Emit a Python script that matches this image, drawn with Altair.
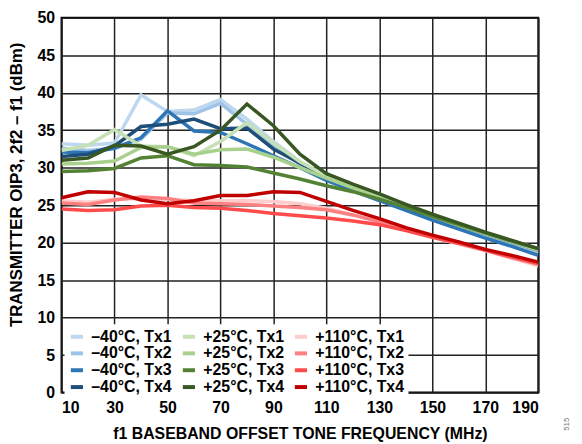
import altair as alt
import pandas as pd

freq = [10, 20, 30, 40, 50, 60, 70, 80, 90, 100, 110, 120, 130, 140, 150, 160, 170, 180, 190]

m40_tx1 = [33.2, 33.0, 33.3, 39.7, 37.5, 37.7, 39.1, 36.5, 33.5, 30.8, 28.8, 27.4, 26.0, 24.6, 23.3, 22.1, 21.0, 19.9, 18.7]
m40_tx2 = [32.6, 32.3, 32.6, 33.8, 37.3, 37.2, 38.6, 35.8, 33.0, 30.5, 28.6, 27.2, 25.9, 24.5, 23.2, 22.0, 20.9, 19.8, 18.6]
m40_tx3 = [32.1, 32.0, 32.6, 34.0, 37.6, 34.9, 34.7, 33.2, 31.6, 30.0, 28.3, 26.9, 25.6, 24.3, 23.0, 21.8, 20.6, 19.5, 18.3]
m40_tx4 = [31.5, 31.8, 32.9, 35.5, 35.8, 36.5, 35.2, 35.3, 32.5, 30.6, 28.8, 27.4, 26.1, 24.8, 23.5, 22.3, 21.2, 20.1, 19.0]

p25_tx1 = [32.3, 33.0, 35.1, 32.9, 32.8, 31.6, 33.5, 36.0, 33.3, 30.8, 28.9, 27.5, 26.2, 24.9, 23.6, 22.4, 21.3, 20.3, 19.2]
p25_tx2 = [30.5, 30.6, 30.9, 32.7, 32.8, 31.8, 32.4, 32.5, 31.4, 30.0, 28.6, 27.3, 26.0, 24.8, 23.5, 22.3, 21.2, 20.1, 19.0]
p25_tx3 = [29.5, 29.6, 29.9, 31.3, 31.6, 30.4, 30.3, 30.1, 29.3, 28.5, 27.6, 26.8, 25.8, 24.7, 23.5, 22.4, 21.3, 20.2, 19.2]
p25_tx4 = [31.0, 31.3, 33.0, 32.9, 31.8, 32.8, 35.0, 38.5, 35.6, 31.8, 29.2, 27.8, 26.5, 25.1, 23.8, 22.6, 21.4, 20.3, 19.2]

p110_tx1 = [25.6, 25.4, 25.8, 25.9, 25.8, 25.6, 25.6, 25.6, 25.5, 25.2, 24.6, 23.7, 22.7, 21.7, 20.7, 19.8, 18.9, 17.9, 16.9]
p110_tx2 = [25.3, 25.1, 25.7, 26.1, 25.9, 25.3, 25.2, 25.1, 24.9, 24.7, 24.4, 23.7, 22.8, 21.8, 20.8, 19.9, 19.0, 18.0, 17.1]
p110_tx3 = [24.5, 24.3, 24.4, 24.9, 25.0, 24.7, 24.6, 24.3, 23.9, 23.6, 23.3, 22.9, 22.4, 21.6, 20.7, 19.9, 19.0, 18.1, 17.2]
p110_tx4 = [26.0, 26.8, 26.7, 25.7, 25.2, 25.6, 26.3, 26.3, 26.8, 26.7, 25.5, 24.3, 23.2, 22.0, 21.0, 20.1, 19.1, 18.3, 17.4]

series_names = [
    "–40°C, Tx1", "–40°C, Tx2", "–40°C, Tx3", "–40°C, Tx4",
    "+25°C, Tx1", "+25°C, Tx2", "+25°C, Tx3", "+25°C, Tx4",
    "+110°C, Tx1", "+110°C, Tx2", "+110°C, Tx3", "+110°C, Tx4",
]
series_values = [m40_tx1, m40_tx2, m40_tx3, m40_tx4,
                 p25_tx1, p25_tx2, p25_tx3, p25_tx4,
                 p110_tx1, p110_tx2, p110_tx3, p110_tx4]
series_colors = ["#BDD7EE", "#9DC3E6", "#2E75B6", "#1F4E79",
                 "#C5E0B4", "#A9D18E", "#548235", "#385723",
                 "#FFCCCC", "#FF8080", "#FF4B4B", "#C00000"]

rows = []
for name, vals in zip(series_names, series_values):
    for f, v in zip(freq, vals):
        rows.append({"freq": f, "oip3": v, "series": name})
df = pd.DataFrame(rows)

FONT = "Liberation Sans"

lines = alt.Chart(df).mark_line(strokeWidth=3.5, clip=True).encode(
    x=alt.X("freq:Q",
            scale=alt.Scale(domain=[10, 190], nice=False, zero=False),
            axis=alt.Axis(values=list(range(10, 191, 20)),
                          title="f1 BASEBAND OFFSET TONE FREQUENCY (MHz)",
                          titlePadding=10, labelPadding=7)),
    y=alt.Y("oip3:Q",
            scale=alt.Scale(domain=[0, 50], nice=False),
            axis=alt.Axis(values=list(range(0, 51, 5)),
                          title="TRANSMITTER OIP3, 2f2 – f1 (dBm)",
                          titleFontSize=17, titleX=-45, titleY=168,
                          titleAlign="center", titleBaseline="middle",
                          titleAngle=270, labelPadding=7)),
    color=alt.Color("series:N",
                    scale=alt.Scale(domain=series_names, range=series_colors),
                    sort=series_names,
                    legend=alt.Legend(orient="none", legendX=3, legendY=309,
                                      columns=3, title=None,
                                      symbolType="stroke", symbolStrokeWidth=4,
                                      symbolSize=150,
                                      labelFont=FONT, labelFontSize=16,
                                      labelFontWeight="bold", labelColor="black",
                                      fillColor="white", padding=4,
                                      rowPadding=-2, columnPadding=2,
                                      labelOffset=6, labelLimit=200)),
)

fig_id = alt.Chart(pd.DataFrame({"t": ["515"]})).mark_text(
    angle=270, fontSize=8, color="#777777", font=FONT
).encode(text="t:N", x=alt.value(510), y=alt.value(410))

chart = alt.layer(lines, fig_id).properties(
    width=481, height=378,
    padding={"left": 54, "top": 8, "right": 36, "bottom": 50},
    autosize=alt.AutoSizeParams(type="none"),
).configure_view(
    stroke="black", strokeWidth=2
).configure_axis(
    grid=True, gridColor="#222222", gridWidth=1.5,
    domain=False, ticks=False,
    labelFont=FONT, labelFontSize=16, labelFontWeight="bold", labelColor="black",
    titleFont=FONT, titleFontSize=16, titleFontWeight="bold", titleColor="black",
)

chart.save("out.html", embed_options={"renderer": "svg", "actions": False})
